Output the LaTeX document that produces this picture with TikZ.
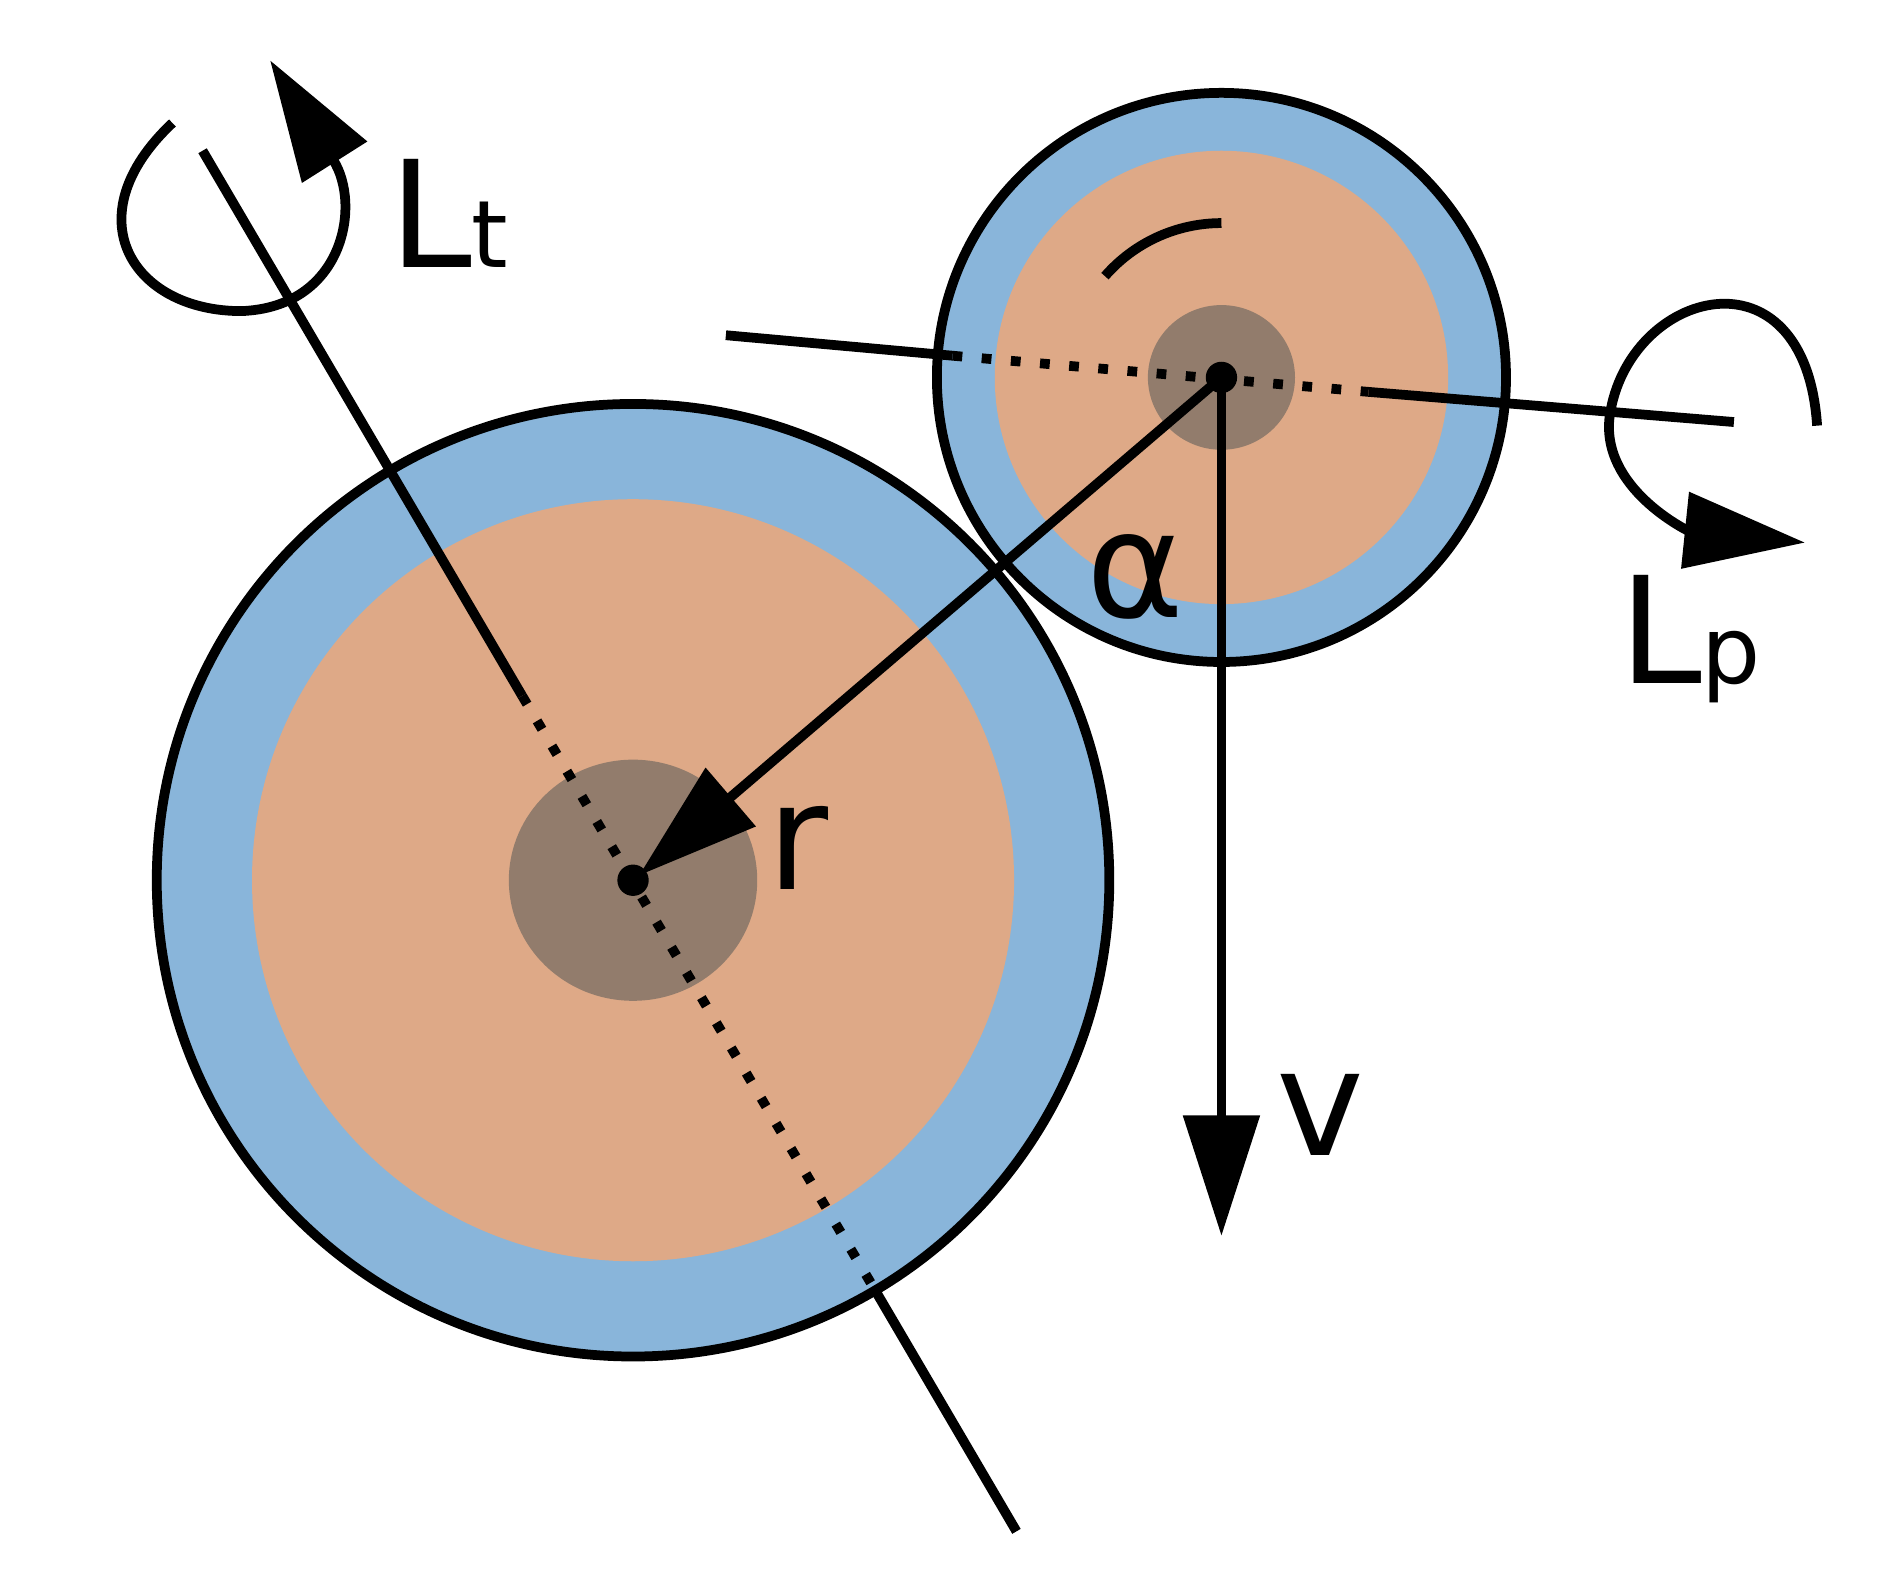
\documentclass[tikz,border=0pt]{standalone}
\usepackage{fontspec}
\setmainfont{DejaVu Sans}
\usetikzlibrary{arrows.meta,positioning,calc}
\definecolor{shellblue}{HTML}{89B5DA}
\definecolor{mantle}{HTML}{DEA987}
\definecolor{core}{HTML}{927C6C}
\tikzset{
  axis/.style={line width=2.3pt},
  dots/.style={line width=2.3pt, dash pattern=on 2.3pt off 4.6pt},
  bigtip/.style={-{Triangle[length=1cm,width=0.62cm]}},
  lbl/.style={anchor=base west, inner sep=0pt, font=\fontsize{35}{40}\selectfont},
}
\begin{document}
\begin{tikzpicture}[x=0.01cm, y=-0.01cm]
        \useasboundingbox (0,0) rectangle (1560,1305);
        % Centres
        \coordinate (cBig) at (525,730);
        \coordinate (cSmall) at (1013,313);

        % Big planet
        \fill[shellblue] (cBig) circle (395);
        \fill[mantle] (cBig) circle (316);
        \fill[core] (cBig) ellipse (103 and 100);
        \draw[axis] (cBig) circle (395);

        % Small planet
        \fill[shellblue] (cSmall) circle (236);
        \fill[mantle] (cSmall) circle (188);
        \fill[core] (cSmall) ellipse (61 and 60);
        \draw[axis] (cSmall) circle (236);

        % Axis of the big planet
        \coordinate (tTop) at (168,125);
        \coordinate (tIn) at (433,577);
        \coordinate (tOut) at (724,1067);
        \coordinate (tBot) at (843,1270);
        \draw[axis] (tTop) -- (tIn);
        \draw[dots] (tIn) -- (tOut);
        \draw[axis] (tOut) -- (tBot);

        % Axis of the small planet
        \coordinate (pLeft) at (602,278);
        \coordinate (pIn) at (790,295);
        \coordinate (pOut) at (1135,325);
        \coordinate (pRight) at (1438,350);
        \draw[axis] (pLeft) -- (pIn);
        \draw[dots] (pIn) -- (pOut);
        \draw[axis] (pOut) -- (pRight);

        % Spin loops
        \draw[axis, bigtip] (143,102) .. controls (60,180) and (110,258) .. (200,258)
              .. controls (285,255) and (300,170) .. (224,50);
        \draw[axis, bigtip] (1507,353) .. controls (1497,200) and (1350,240) .. (1335,345)
              .. controls (1327,405) and (1400,440) .. (1497,450);

        % Vectors r and v
        \draw[axis, bigtip] (cSmall) -- (530,726);
        \draw[axis, bigtip] (cSmall) -- (1013,1025);

        % Angle alpha
        \draw[axis] (cSmall) ++(-139:128) arc (-139:-90:128);

        % Centre dots
        \fill[black] (cBig) circle (13);
        \fill[black] (cSmall) circle (13);

        % Labels
        \node[lbl] (lt) at (322,222) {L{\fontsize{22}{26}\selectfont t}};
        \node[lbl] (lp) at (1342,567) {L{\fontsize{22}{26}\selectfont p}};
        \node[lbl] (rl) at (636,738) {r};
        \node[lbl] (vl) at (1058,958) {v};
        \node[lbl] (al) at (900,512) {α};
    \end{tikzpicture}
\end{document}
